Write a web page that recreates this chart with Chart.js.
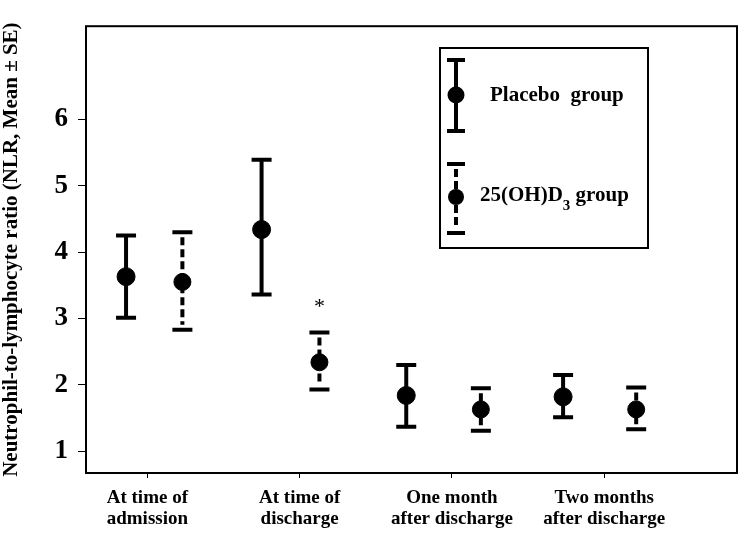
<!DOCTYPE html>
<html>
<head>
<meta charset="utf-8">
<script src="https://cdn.jsdelivr.net/npm/chart.js@4/dist/chart.umd.min.js"></script>
<style>
  html, body { margin: 0; padding: 0; background: #fff; }
  #wrap { width: 747px; height: 536px; }
</style>
</head>
<body>
<div id="wrap"><canvas id="c"></canvas></div>
<script>
// categories on the x axis (tick at 1..4)
const xTicks = [1, 2, 3, 4]
const categories = [
  ["At time of", "admission"],
  ["At time of", "discharge"],
  ["One month", "after discharge"],
  ["Two months", "after discharge"]
]
const yTicks = [1, 2, 3, 4, 5, 6]

// Placebo group: x position, mean, mean - SE, mean + SE
const placeboX    = [0.86, 1.75, 2.70, 3.73]
const placeboMean = [3.63, 4.34, 1.84, 1.82]
const placeboLow  = [3.01, 3.36, 1.37, 1.51]
const placeboHigh = [4.25, 5.39, 2.30, 2.15]

// 25(OH)D3 group
const d3X    = [1.23, 2.13, 3.19, 4.21]
const d3Mean = [3.55, 2.34, 1.63, 1.63]
const d3Low  = [2.83, 1.93, 1.31, 1.33]
const d3High = [4.30, 2.79, 1.95, 1.96]

// significance marker
const sigX = d3X[1]
const sigY = 3.22

const serif = '"Liberation Serif", "Times New Roman", serif'

const toPoints = (xs, ys) => xs.map((x, i) => ({ x, y: ys[i] }))

function drawBar(ctx, px, top, bottom, dashed, cap) {
  ctx.save()
  ctx.strokeStyle = '#000'
  ctx.lineWidth = 4
  ctx.lineCap = 'butt'
  ctx.beginPath()
  if (dashed) {
    ctx.setLineDash([8, 4])
    ctx.moveTo(px, top + 5)
    ctx.lineTo(px, bottom - 5)
  } else {
    ctx.moveTo(px, top)
    ctx.lineTo(px, bottom)
  }
  ctx.stroke()
  ctx.setLineDash([])
  ctx.beginPath()
  ctx.moveTo(px - cap / 2, top)
  ctx.lineTo(px + cap / 2, top)
  ctx.moveTo(px - cap / 2, bottom)
  ctx.lineTo(px + cap / 2, bottom)
  ctx.stroke()
  ctx.restore()
}

const errorBars = {
  id: 'errorBars',
  beforeDatasetsDraw(chart) {
    const { ctx, scales: { x, y } } = chart
    placeboX.forEach((v, i) => {
      drawBar(ctx, x.getPixelForValue(v), y.getPixelForValue(placeboHigh[i]),
        y.getPixelForValue(placeboLow[i]), false, 20)
    })
    d3X.forEach((v, i) => {
      drawBar(ctx, x.getPixelForValue(v), y.getPixelForValue(d3High[i]),
        y.getPixelForValue(d3Low[i]), true, 20)
    })
  },
  afterDraw(chart) {
    const { ctx, chartArea: a, scales: { x, y } } = chart
    ctx.save()
    // frame
    ctx.strokeStyle = '#000'
    ctx.lineWidth = 2
    ctx.strokeRect(a.left, a.top, a.right - a.left, a.bottom - a.top)

    // asterisk
    ctx.fillStyle = '#000'
    ctx.font = '22px ' + serif
    ctx.textAlign = 'center'
    ctx.textBaseline = 'middle'
    ctx.fillText('*', x.getPixelForValue(sigX), y.getPixelForValue(sigY) + 3)

    // legend box
    const lx = 440, ly = 48
    ctx.lineWidth = 2
    ctx.strokeRect(lx, ly, 208, 200)
    drawBar(ctx, lx + 16, ly + 12, ly + 83, false, 18)
    ctx.beginPath()
    ctx.arc(lx + 16, ly + 47, 8.5, 0, Math.PI * 2)
    ctx.fill()
    drawBar(ctx, lx + 16, ly + 116, ly + 185, true, 18)
    ctx.beginPath()
    ctx.arc(lx + 16, ly + 149, 8, 0, Math.PI * 2)
    ctx.fill()

    ctx.textAlign = 'left'
    ctx.font = 'bold 21px ' + serif
    ctx.fillText('Placebo  group', lx + 50, ly + 48)
    let tx = lx + 40
    ctx.fillText('25(OH)D', tx, ly + 148)
    tx += ctx.measureText('25(OH)D').width
    ctx.font = 'bold 15px ' + serif
    ctx.fillText('3', tx, ly + 158)
    tx += ctx.measureText('3').width
    ctx.font = 'bold 21px ' + serif
    ctx.fillText(' group', tx, ly + 148)
    ctx.restore()
  }
}

new Chart(document.getElementById('c'), {
  type: 'scatter',
  data: {
    datasets: [
      {
        label: 'Placebo group',
        data: toPoints(placeboX, placeboMean),
        backgroundColor: '#000',
        borderColor: '#000',
        pointRadius: 9,
        pointHoverRadius: 9
      },
      {
        label: '25(OH)D3 group',
        data: toPoints(d3X, d3Mean),
        backgroundColor: '#000',
        borderColor: '#000',
        pointRadius: 8.5,
        pointHoverRadius: 8.5
      }
    ]
  },
  options: {
    responsive: true,
    maintainAspectRatio: false,
    animation: false,
    layout: { padding: { top: 22, right: 4, left: 0, bottom: 0 } },
    plugins: {
      legend: { display: false },
      tooltip: { enabled: false }
    },
    scales: {
      x: {
        type: 'linear',
        min: 0.597,
        max: 4.872,
        afterBuildTicks: s => { s.ticks = xTicks.map(v => ({ value: v })) },
        afterFit: s => { s.height = 63 },
        border: { display: false },
        grid: { drawOnChartArea: false, tickLength: 5, color: '#000', tickWidth: 1 },
        ticks: {
          color: '#000',
          maxRotation: 0,
          padding: 9,
          font: { family: serif, size: 19, weight: 'bold', lineHeight: 1.12 },
          callback: v => categories[xTicks.indexOf(v)] || ''
        }
      },
      y: {
        min: 0.672,
        max: 7.403,
        afterBuildTicks: s => { s.ticks = yTicks.map(v => ({ value: v })) },
        afterFit: s => { s.width = 86 },
        border: { display: false },
        grid: { drawOnChartArea: false, tickLength: 8, color: '#000', tickWidth: 1 },
        ticks: {
          color: '#000',
          padding: 10,
          font: { family: serif, size: 27, weight: 'bold' }
        },
        title: {
          display: true,
          text: 'Neutrophil-to-lymphocyte ratio (NLR, Mean \u00b1 SE)',
          color: '#000',
          padding: 0,
          font: { family: serif, size: 21, weight: 'bold', lineHeight: 1.1 }
        }
      }
    }
  },
  plugins: [errorBars]
})
</script>
</body>
</html>
